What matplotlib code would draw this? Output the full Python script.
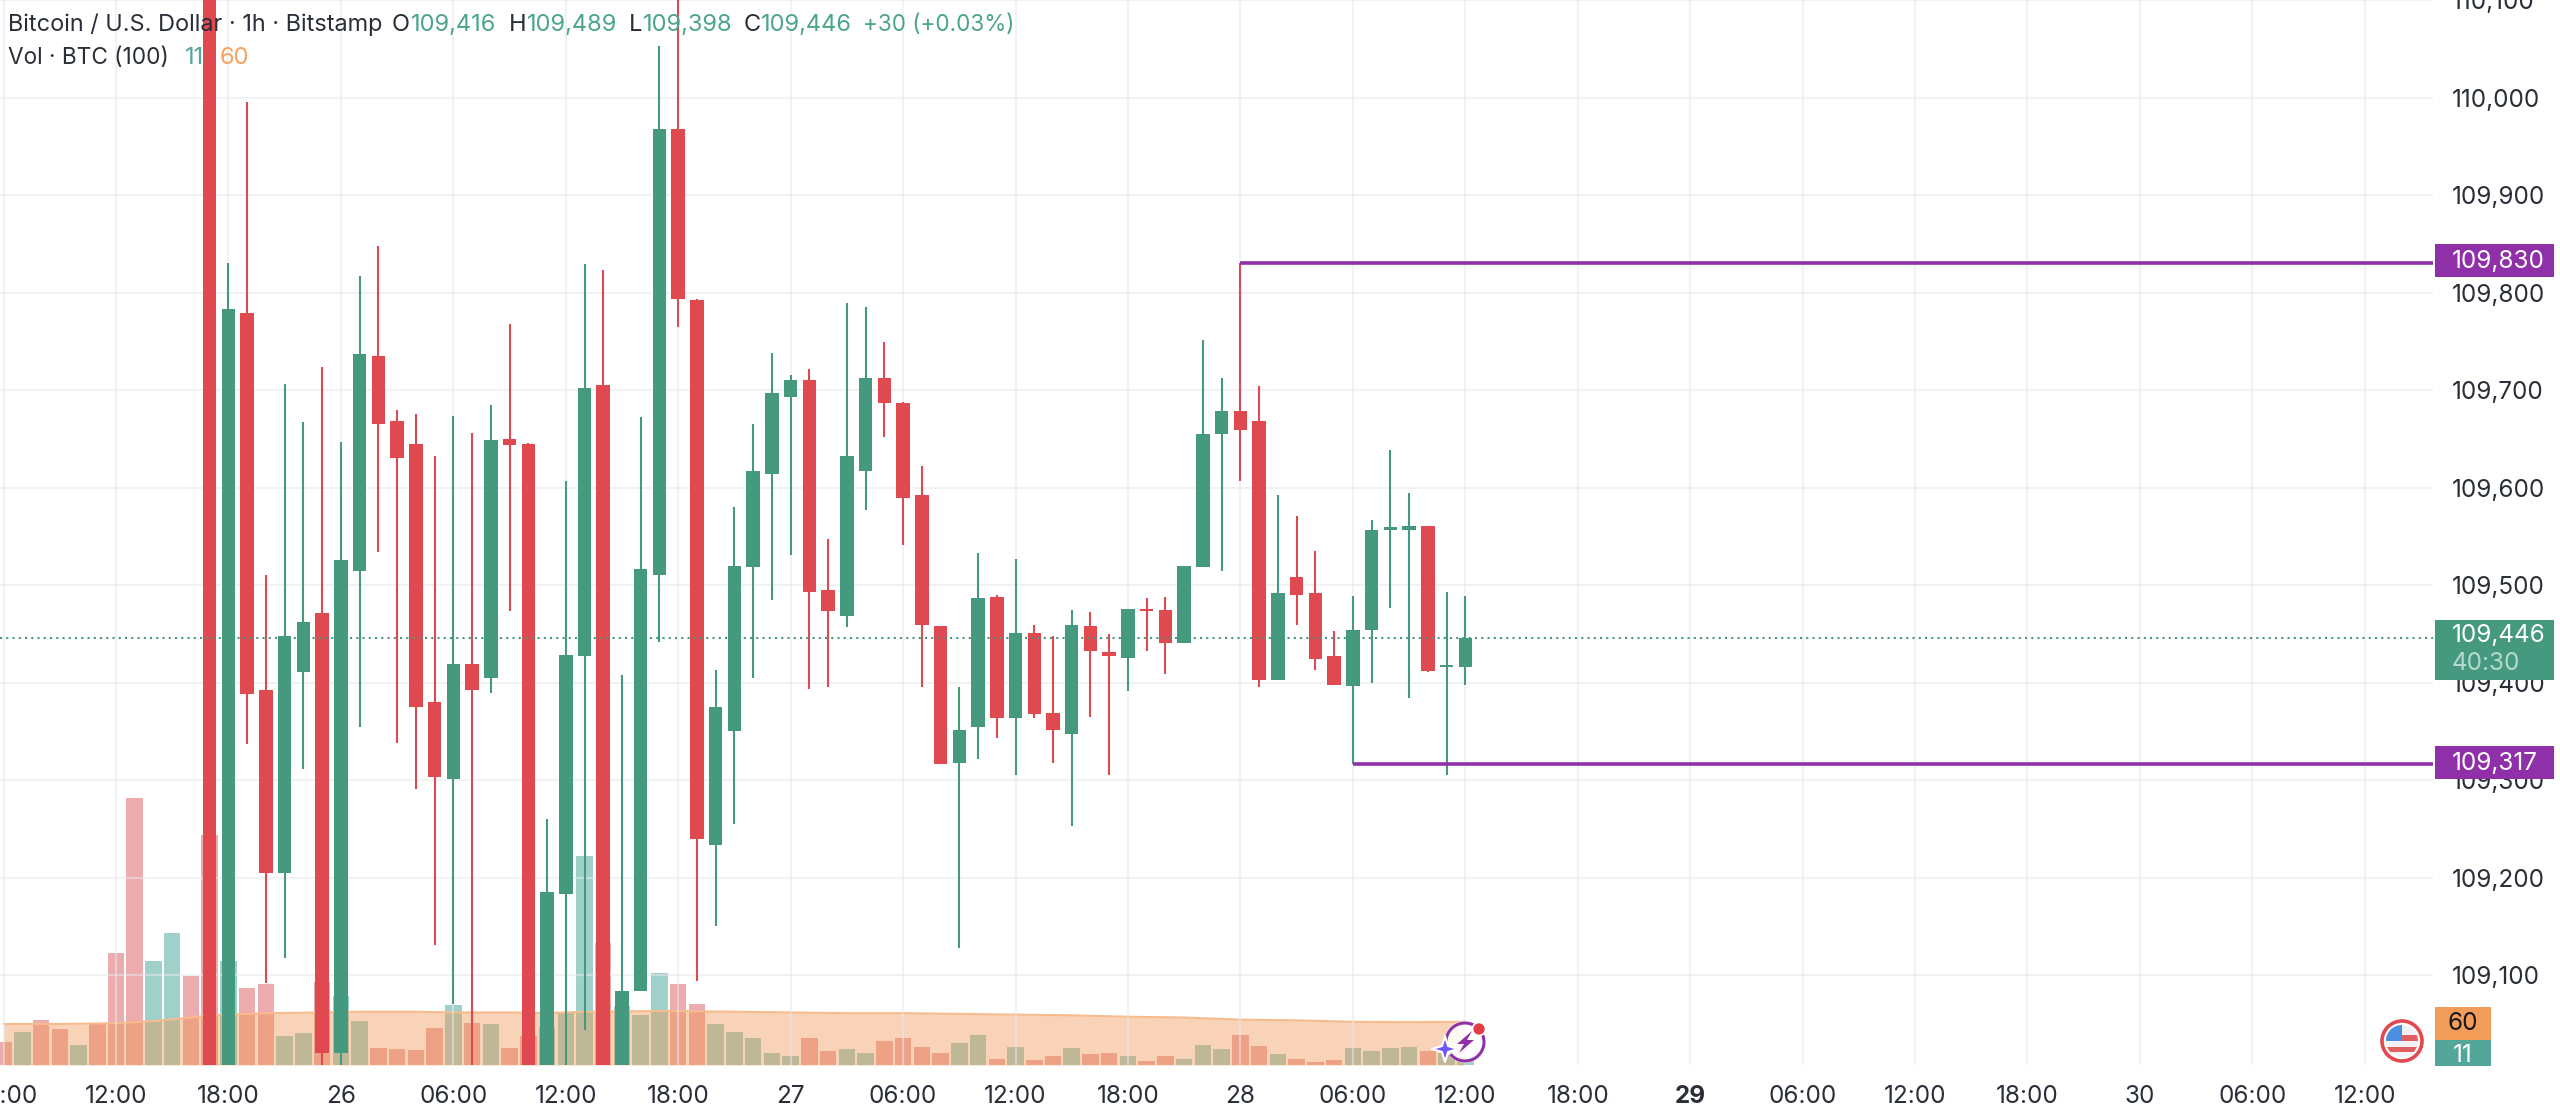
#!/usr/bin/env python3
"""BTC/USD 1h candle chart with volume overlay and two level lines."""

import matplotlib
matplotlib.use("Agg")
import matplotlib.pyplot as plt
import numpy as np
from matplotlib.patches import Arc, Circle, Polygon, Rectangle

W, H = 2560, 1118
PANE_RIGHT = 2433
PANE_BOTTOM = 1065

GREEN = "#45997F"
RED = "#E0494F"
TEXT = "#2A2E39"
NUM_GREEN = "#4BA58C"
PURPLE = "#8F30A8"
GRID = "#E6E8EC"

plt.rcParams["font.family"] = ["Inter", "DejaVu Sans"]

# hours counted from 25th 12:00
candle_hours = list(range(5, 73))
opens = [110300, 108950, 109779, 109393, 109205, 109411, 109471, 109020, 109515, 109735,
         109668, 109645, 109380, 109301, 109419, 109405, 109650, 109645, 108950, 109183,
         109427, 109705, 108950, 109084, 109510, 109968, 109792, 109234, 109350, 109519,
         109614, 109693, 109710, 109495, 109468, 109617, 109712, 109687, 109592, 109458,
         109318, 109355, 109488, 109364, 109451, 109369, 109347, 109458, 109431, 109425,
         109476, 109475, 109441, 109519, 109655, 109679, 109668, 109403, 109508, 109492,
         109427, 109397, 109454, 109557, 109557, 109561, 109416, 109416]
highs = [110400, 109830, 109995, 109510, 109706, 109667, 109724, 109647, 109817, 109848,
         109680, 109676, 109632, 109673, 109656, 109685, 109768, 109646, 109260, 109607,
         109829, 109823, 109408, 109672, 110053, 110120, 109793, 109413, 109580, 109665,
         109738, 109715, 109722, 109547, 109789, 109785, 109749, 109688, 109622, 109458,
         109396, 109533, 109490, 109527, 109459, 109448, 109475, 109472, 109450, 109476,
         109487, 109488, 109520, 109751, 109712, 109830, 109704, 109592, 109571, 109535,
         109453, 109489, 109567, 109639, 109594, 109561, 109493, 109489]
lows = [108950, 108900, 109337, 109092, 109118, 109312, 108990, 108990, 109355, 109534,
        109338, 109291, 109131, 109071, 108990, 109389, 109473, 108900, 108900, 108990,
        109044, 108900, 108900, 109084, 109442, 109765, 109094, 109151, 109255, 109405,
        109485, 109531, 109394, 109396, 109457, 109577, 109652, 109541, 109396, 109317,
        109128, 109322, 109343, 109305, 109364, 109318, 109253, 109365, 109305, 109391,
        109433, 109409, 109441, 109519, 109515, 109607, 109396, 109403, 109459, 109413,
        109398, 109317, 109400, 109477, 109384, 109411, 109305, 109398]
closes = [108950, 109783, 109388, 109205, 109448, 109462, 109020, 109526, 109737, 109665,
          109630, 109375, 109303, 109419, 109392, 109649, 109644, 108950, 109185, 109428,
          109702, 108950, 109084, 109517, 109968, 109793, 109240, 109375, 109520, 109617,
          109697, 109710, 109493, 109473, 109632, 109712, 109687, 109589, 109459, 109317,
          109352, 109487, 109364, 109451, 109368, 109351, 109459, 109433, 109427, 109476,
          109473, 109441, 109520, 109655, 109679, 109659, 109403, 109492, 109490, 109424,
          109398, 109454, 109557, 109558, 109561, 109412, 109417, 109446]

volume_hours = list(range(-6, 73))
volumes = [32, 46, 63, 50, 28, 59, 156, 371, 144, 183, 124, 319, 145, 107, 112, 40, 44, 115,
           96, 61, 24, 22, 21, 51, 83, 58, 57, 24, 40, 53, 73, 290, 169, 82, 70, 128, 113, 85,
           57, 46, 37, 16, 13, 37, 19, 22, 17, 33, 37, 25, 16, 30, 41, 8, 25, 6.5, 12, 23, 15,
           17, 12, 5.5, 12, 9, 28, 22, 41, 26, 15, 8, 4, 6.5, 23, 19, 24, 25, 20, 17, 11]
volume_sides = list("rgrrgrrrggrrgrrggr" "ggrrrrgrgrrgggrgggrr" "gggggrrggrrrrggrgrrgr" "rgrrgggrrgrrrggggrgg")

ma_hours = [-6, -3, 0, 2, 4, 5, 8, 11, 13, 16, 18, 21, 23, 25, 29, 33, 36, 39, 42, 45, 48,
            51, 54, 57, 60, 63, 66, 69, 72]
ma_values = [57, 57, 58, 61, 66, 69, 72, 73, 74, 74, 73, 73, 72, 74, 75, 74, 73, 72, 72, 71, 70,
             69, 67, 66, 63, 62, 60, 59.5, 60]

price_ticks = [109100, 109200, 109300, 109400, 109500, 109600, 109700, 109800, 109900, 110000, 110100]
time_ticks = list(range(-6, 121, 6))
time_labels = ["06:00", "12:00", "18:00", "26", "06:00", "12:00", "18:00", "27", "06:00", "12:00", "18:00",
               "28", "06:00", "12:00", "18:00", "29", "06:00", "12:00", "18:00", "30", "06:00", "12:00"]

level_high = 109830
level_low = 109317
level_high_start = 60
level_low_start = 66
last_price = 109446


def px_text(ov, x, y, s, color=TEXT, size=17.0, **kw):
    ov.text(x, y, s, color=color, fontsize=size, va="center", ha=kw.pop("ha", "left"), **kw)


def draw_legend(ov):
    px_text(ov, 8, 25, "Bitcoin / U.S. Dollar · 1h · Bitstamp", size=16.9)
    for x, s in [(392, "O"), (509, "H"), (629, "L"), (744, "C")]:
        px_text(ov, x, 25, s)
    for x, s in [(411, "109,416"), (527, "109,489"), (643, "109,398"), (761, "109,446")]:
        px_text(ov, x, 25, s, color=NUM_GREEN)
    px_text(ov, 863, 25, "+30 (+0.03%)", color=NUM_GREEN, size=16.2)
    px_text(ov, 8, 58, "Vol · BTC (100)", size=16.3)
    px_text(ov, 185, 58, "11", color="#52A69A")
    px_text(ov, 220, 58, "60", color="#F7A15E")


def draw_price_boxes(ov):
    for y0, y1, s in [(244, 277, f"{level_high:,}"), (746, 779, f"{level_low:,}")]:
        ov.add_patch(Rectangle((2435, y0), 119, y1 - y0, color=PURPLE, lw=0))
        px_text(ov, 2452, (y0 + y1) / 2 + 1, s, color="white", size=17.5)
    ov.add_patch(Rectangle((2435, 620), 119, 60, color=GREEN, lw=0))
    px_text(ov, 2452, 636, f"{last_price:,}", color="white", size=17.5)
    px_text(ov, 2452, 663, "40:30", color="#B5D9CE", size=17.5)
    ov.add_patch(Rectangle((2435, 1007), 56, 33, color="#F29C58", lw=0))
    px_text(ov, 2463, 1024, "60", color="#131722", size=17.5, ha="center")
    ov.add_patch(Rectangle((2435, 1040), 56, 26, color="#52A69A", lw=0))
    px_text(ov, 2463, 1056, "11", color="white", size=17.5, ha="center")


def draw_flag(ov):
    cx, cy = 2402, 1041
    ov.add_patch(Circle((cx, cy), 20, fc="white", ec="#E0494F", lw=2.6))
    clip = Circle((cx, cy), 16, transform=ov.transData)
    for y0, h, c in [(-16, 32, "#F2F2F6"), (-6, 6, "#E0605F"), (6, 5, "#E0605F")]:
        r = Rectangle((cx - 16, cy + y0), 32, h, color=c, lw=0)
        ov.add_patch(r)
        r.set_clip_path(clip)
    r = Rectangle((cx - 16, cy - 16), 16, 16, color="#4A8FE0", lw=0)
    ov.add_patch(r)
    r.set_clip_path(clip)


def draw_bolt(ov):
    cx, cy = 1465, 1042
    ov.add_patch(Circle((cx, cy), 21, fc="white", ec="none", alpha=0.85))
    ov.add_patch(Arc((cx, cy), 38, 38, theta1=-30, theta2=140, color=PURPLE, lw=2.2))
    ov.add_patch(Arc((cx, cy), 38, 38, theta1=165, theta2=300, color=PURPLE, lw=2.2))
    bolt = [(cx + 7, cy - 11), (cx - 8, cy + 2), (cx - 1, cy + 2), (cx - 6, cy + 11),
            (cx + 9, cy - 2), (cx + 2, cy - 2)]
    ov.add_patch(Polygon(bolt, closed=True, fc=PURPLE, ec="none"))
    ov.add_patch(Circle((1479, 1029), 6.5, fc="#E23C44", ec="white", lw=1.2))
    sx, sy = 1445, 1049
    star = [(sx - 13, sy), (sx - 3, sy - 3), (sx, sy - 13), (sx + 3, sy - 3), (sx + 13, sy),
            (sx + 3, sy + 3), (sx, sy + 13), (sx - 3, sy + 3)]
    ov.add_patch(Polygon(star, closed=True, fc="#6E56F8", ec="white", lw=1.5, joinstyle="round"))


def main():
    fig = plt.figure(figsize=(W / 100, H / 100), dpi=100, facecolor="white")
    rect = [0, 1 - PANE_BOTTOM / H, PANE_RIGHT / W, PANE_BOTTOM / H]
    xlim = (-116 / 18.74, (PANE_RIGHT - 116) / 18.74)

    # volume underneath everything
    ax_vol = fig.add_axes(rect, zorder=0)
    bar_colors = ["#41A597" if s == "g" else "#DB5A5E" for s in volume_sides]
    ax_vol.bar(volume_hours, volumes, width=0.88, color=bar_colors, alpha=0.5, linewidth=0)
    ax_vol.fill_between(ma_hours, ma_values, 0, color="#F0934B", alpha=0.4, linewidth=0)
    ax_vol.plot(ma_hours, ma_values, color="#F6BC8E", lw=1.5)
    ax_vol.set_xlim(*xlim)
    ax_vol.set_ylim(0, PANE_BOTTOM / 0.72)
    ax_vol.axis("off")

    ax = fig.add_axes(rect, zorder=1)
    ax.patch.set_visible(False)
    for s in ax.spines.values():
        s.set_visible(False)

    o = np.array(opens, dtype=float)
    c = np.array(closes, dtype=float)
    colors = [GREEN if cl >= op else RED for op, cl in zip(o, c)]
    ax.vlines(candle_hours, lows, highs, colors=colors, lw=1.5, zorder=3)
    ax.bar(candle_hours, np.maximum(np.abs(c - o), 2.5), bottom=np.minimum(o, c), width=0.72,
           color=colors, linewidth=0, zorder=4)

    ax.hlines(level_high, level_high_start, xlim[1], color=PURPLE, lw=2.6, zorder=5)
    ax.hlines(level_low, level_low_start, xlim[1], color=PURPLE, lw=2.6, zorder=5)
    ax.axhline(last_price, color=GREEN, lw=1.5, ls=(0, (1, 2)), zorder=5)

    ax.set_xlim(*xlim)
    ax.set_ylim(109008, 110095)
    ax.set_yticks(price_ticks)
    ax.set_yticklabels([f"{p:,}" for p in price_ticks])
    ax.set_xticks(time_ticks)
    ax.set_xticklabels(time_labels)
    ax.yaxis.tick_right()
    ax.tick_params(axis="y", length=0, pad=13.5, labelsize=17.5, labelcolor=TEXT)
    ax.tick_params(axis="x", length=0, pad=14.5, labelsize=17.5, labelcolor=TEXT)
    for lab in ax.get_xticklabels():
        if lab.get_text() == "29":
            lab.set_fontweight("bold")
    ax.grid(True, color=GRID, lw=1.5, alpha=0.55, zorder=0)
    ax.set_axisbelow(True)

    # overlay in pixel coordinates for labels and icons
    ov = fig.add_axes([0, 0, 1, 1], zorder=2)
    ov.set_xlim(0, W)
    ov.set_ylim(H, 0)
    ov.axis("off")
    draw_legend(ov)
    draw_price_boxes(ov)
    draw_flag(ov)
    draw_bolt(ov)

    fig.savefig("out.png", dpi=100)
    plt.close(fig)


if __name__ == "__main__":
    main()
